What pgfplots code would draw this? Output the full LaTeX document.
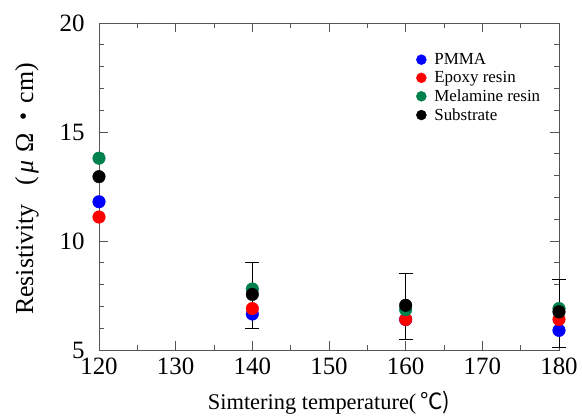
\documentclass[border=0pt]{standalone}
\usepackage{fontspec}
\setmainfont{Liberation Serif}
\newfontfamily\cjk{Noto Sans CJK JP}
\usepackage{pgfplots}
\pgfplotsset{compat=1.18}
\definecolor{pmma}{HTML}{0000FF}
\definecolor{epoxy}{HTML}{FF0000}
\definecolor{melamine}{HTML}{00804A}
\definecolor{axisgrey}{HTML}{555555}
\begin{document}
\begin{tikzpicture}
\path (0,0) rectangle (582bp,419bp);
\begin{axis}[
  at={(99bp,69bp)}, anchor=south west,
  scale only axis, width=460bp, height=327bp,
  xmin=120, xmax=180, ymin=5, ymax=20,
  xtick={120,130,...,180}, ytick={5,10,15,20},
  minor x tick num=1, minor y tick num=4,
  tick align=inside,
  major tick length=9bp, minor tick length=5bp,
  axis line style={axisgrey, line width=0.8pt},
  tick style={axisgrey, line width=0.8pt},
  tick label style={font=\fontsize{25}{27}\selectfont},
  yticklabel style={xshift=-11bp},
  xticklabel style={yshift=-4bp},
  /pgf/number format/assume math mode=true,
  clip=false,
  legend style={draw=none, fill=none, at={(rel axis cs:0.683,0.92)}, anchor=north west,
    font=\fontsize{17}{18}\selectfont, row sep=1.5bp},
  legend cell align=left,
  legend image code/.code={\path[draw=none, fill=none] (0bp,-4bp) rectangle (11bp,4bp);
    \draw[#1, mark size=5bp] plot coordinates {(0bp,0bp)};},
]
% error bars of the substrate series, drawn under the markers
\addplot[forget plot, only marks, mark=none,
  error bars/.cd, y dir=both, y explicit,
  error bar style={black, line width=0.8pt},
  error mark options={rotate=90, mark size=7bp, black, line width=0.8pt}]
  coordinates {(140,7.5) +- (0,1.5) (160,7.0) +- (0,1.52) (180,6.68) +- (0,1.54)};
\addplot[only marks, mark=*, mark size=6.3bp, color=pmma]
  coordinates {(120,11.8) (140,6.65) (160,6.4) (180,5.9)};
\addplot[only marks, mark=*, mark size=6.3bp, color=epoxy]
  coordinates {(120,11.1) (140,6.9) (160,6.4) (180,6.4)};
\addplot[only marks, mark=*, mark size=6.3bp, color=melamine]
  coordinates {(120,13.8) (140,7.8) (160,6.85) (180,6.9)};
\addplot[only marks, mark=*, mark size=6.3bp, color=black]
  coordinates {(120,12.95) (140,7.55) (160,7.05) (180,6.75)};
\legend{PMMA,Epoxy resin,Melamine resin,Substrate}
\end{axis}
\node[rotate=90, font=\fontsize{26}{28}\selectfont] at (27bp,230bp)
  {Resistivity\hspace{0.7em}(\,{\itshape μ}\;Ω\,{\cjk ・}cm)};
\node[font=\fontsize{22.5}{24}\selectfont] at (329bp,16bp)
  {Simtering temperature(\,{\cjk ℃)}};
\end{tikzpicture}
\end{document}
